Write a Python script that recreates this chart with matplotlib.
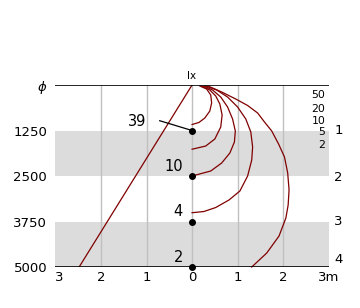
import matplotlib
matplotlib.use("Agg")
import matplotlib.pyplot as plt

plt.rcParams['font.family'] = ['DejaVu Sans']

# depth scale (left) and layer numbers (right)
depth_ticks = [0, 1250, 2500, 3750, 5000]
depth_labels = ["$\\phi$", "1250", "2500", "3750", "5000"]
layer_labels = ["1", "2", "3", "4"]
layer_label_depth = [1250, 2550, 3750, 4800]
gray_bands = [(1250, 2500), (3750, 5000)]

x_ticks = [-3, -2, -1, 0, 1, 2, 3]
x_labels = ["3", "2", "1", "0", "1", "2", "3m"]

# current lines (distance m, depth)
c1_x = [0.17, 0.32, 0.41, 0.43, 0.39, 0.28, 0.15, 0.0]
c1_d = [27, 110, 275, 494, 714, 907, 1030, 1085]
c2_x = [0.21, 0.39, 0.52, 0.61, 0.66, 0.63, 0.50, 0.30, 0.0]
c2_d = [27, 137, 302, 522, 824, 1154, 1483, 1676, 1764]
c3_x = [0.26, 0.45, 0.63, 0.78, 0.89, 0.95, 0.93, 0.83, 0.65, 0.41, 0.0]
c3_d = [27, 137, 330, 604, 934, 1264, 1566, 1868, 2143, 2362, 2500]
c4_x = [0.30, 0.54, 0.78, 1.00, 1.18, 1.29, 1.33, 1.31, 1.22, 1.05, 0.81, 0.52, 0.26, 0.0]
c4_d = [27, 137, 330, 604, 934, 1291, 1703, 2060, 2500, 2912, 3159, 3365, 3475, 3508]
c5_x = [0.35, 0.65, 0.96, 1.22, 1.44, 1.59, 1.75, 1.90, 2.03, 2.10, 2.13, 2.11, 2.06, 1.91, 1.64, 1.31]
c5_d = [27, 192, 385, 563, 769, 1016, 1264, 1621, 1978, 2417, 2884, 3296, 3654, 4148, 4615, 5000]
curves = [(c1_x, c1_d), (c2_x, c2_d), (c3_x, c3_d), (c4_x, c4_d), (c5_x, c5_d)]

percent_labels = ["50", "20", "10", "5", "2"]
percent_depth = [283, 651, 981, 1283, 1648]

# share of current below each depth
share_depth = [1250, 2500, 3750, 5000]
share_values = ["39", "10", "4", "2"]
share_text_depth = [989, 2225, 3461, 4725]

slope_line_x = [0, -2.48]
slope_line_d = [0, 5000]

fig = plt.figure(figsize=(3.6, 3.08), dpi=100)
ax = fig.add_axes([0.154, 0.133, 0.759, 0.591])
ax.set_xlim(-3, 3)
ax.set_ylim(5000, 0)

for top, bot in gray_bands:
    ax.axhspan(top, bot, color='#dcdcdc', lw=0, zorder=0)
for xv in x_ticks[1:-1]:
    ax.axvline(xv, color='#c0c0c0', lw=1, zorder=1)

ax.axhline(0, color='black', lw=1.2, zorder=3)
ax.axhline(5000, color='black', lw=1.2, zorder=3)

ax.plot(slope_line_x, slope_line_d, color='#800000', lw=0.9, zorder=2)
for cx, cd in curves:
    ax.plot(cx, cd, color='#800000', lw=0.9, zorder=2, clip_on=False)

ax.scatter([0] * len(share_depth), share_depth, s=16, color='black', zorder=5, clip_on=False)
ax.plot([-0.71, 0], [981, 1250], color='black', lw=0.9, zorder=4)
ax.text(-1.0, share_text_depth[0], share_values[0], fontsize=10.5, ha='right', va='center')
for v, d in zip(share_values[1:], share_text_depth[1:]):
    ax.text(-0.2, d, v, fontsize=10.5, ha='right', va='center')

for lab, d in zip(percent_labels, percent_depth):
    ax.text(2.93, d, lab, fontsize=7.8, ha='right', va='center')
ax.text(0.0, -250, "Ix", fontsize=7.5, ha='center', va='center')

for lab, d in zip(layer_labels, layer_label_depth):
    ax.text(3.12, d, lab, fontsize=9.5, ha='left', va='center')

ax.set_yticks(depth_ticks)
ax.set_yticklabels(depth_labels, fontsize=9.5)
ax.set_xticks(x_ticks)
ax.set_xticklabels(x_labels, fontsize=9.5)
xl = ax.get_xticklabels()
xl[0].set_ha('left')
xl[-1].set_ha('center')
ax.tick_params(length=0, pad=3)
ax.tick_params(axis='y', pad=6)
for s in ax.spines.values():
    s.set_visible(False)

fig.savefig("out.png", dpi=100)
